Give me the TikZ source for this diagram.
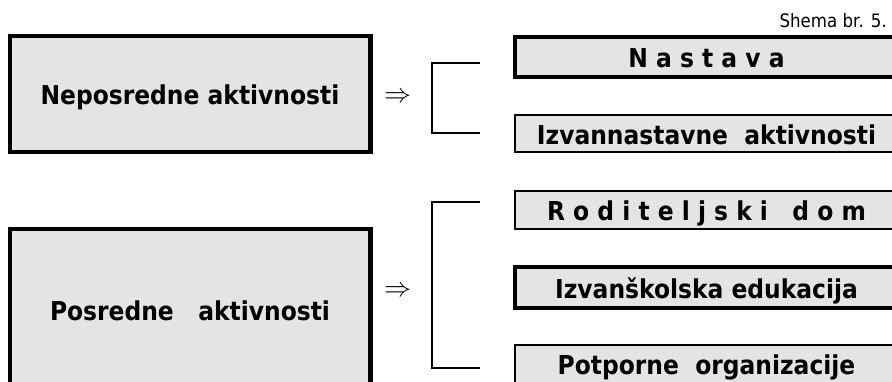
\RequirePackage{fix-cm}
\documentclass[tikz,border=0pt]{standalone}
\usepackage{fontspec}
\setmainfont{DejaVu Sans}[FakeStretch=0.9]
\definecolor{boxgray}{HTML}{E4E4E4}
\tikzset{
  boxtext/.style={font={\fontsize{26}{30}\selectfont\bfseries}, text height=21pt, text depth=0pt, inner sep=0pt, fill=boxgray, draw=black},
  bigbox/.style={boxtext, line width=4.5pt, minimum width=360.5pt},
  thickbox/.style={boxtext, line width=4pt, minimum width=384pt},
  thinbox/.style={boxtext, line width=2pt, minimum width=384pt},
  implies/.style={font={\fontsize{27}{27}\selectfont}, inner sep=0pt},
  bracket/.style={line width=1.5pt},
  caption/.style={font={\fontsize{18.5}{20}\selectfont}, anchor=base east, inner sep=0pt}
}
\begin{document}
\begin{tikzpicture}[x=1pt,y=-1pt]
\useasboundingbox (0,0) rectangle (892,381);
\node[caption] (shema) at (887,27) {Shema br. 5.};
% left boxes
\node[bigbox, minimum height=116pt] (nep) at (190,94) {Neposredne aktivnosti};
\node[bigbox, minimum height=162pt] (pos) at (190,310) {Posredne~~~aktivnosti};
% arrows
\node[implies] (ar1) at (397.5,98) {$\Rightarrow$};
\node[implies] (ar2) at (397.5,292) {$\Rightarrow$};
% brackets
\coordinate (b1a) at (480,63);
\coordinate (b1b) at (432,63);
\coordinate (b1c) at (432,133);
\coordinate (b1d) at (480,133);
\draw[bracket] (b1a) -- (b1b) -- (b1c) -- (b1d);
\coordinate (b2a) at (480,202);
\coordinate (b2b) at (432,202);
\coordinate (b2c) at (432,368);
\coordinate (b2d) at (480,368);
\draw[bracket] (b2a) -- (b2b) -- (b2c) -- (b2d);
% right boxes
\node[thickbox, minimum height=40pt] (nas) at (706.5,57) {N a s t a v a};
\node[thinbox, minimum height=37pt] (izv) at (706.5,133.5) {Izvannastavne~~aktivnosti};
\node[thinbox, minimum height=37.5pt] (rod) at (706.5,210) {R o d i t e l j s k i~~~d o m};
\node[thickbox, minimum height=41pt] (izs) at (706.5,287.5) {Izvanškolska edukacija};
\node[thinbox, minimum height=48pt, text depth=11pt] (pot) at (706.5,369) {Potporne~~organizacije};
\end{tikzpicture}
\end{document}
